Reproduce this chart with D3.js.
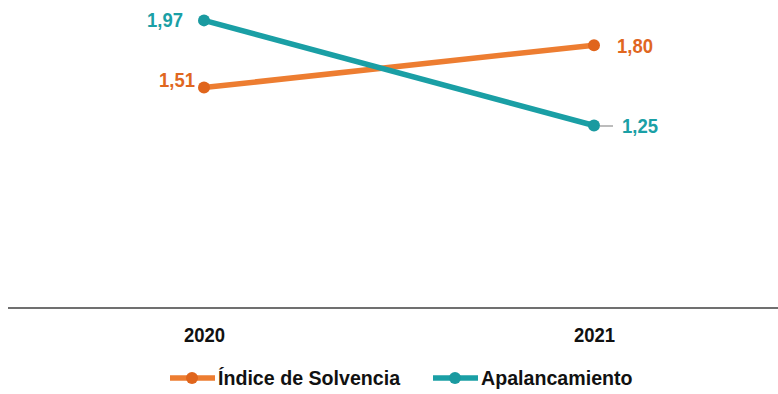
<!DOCTYPE html>
<html><head><meta charset="utf-8">
<script src="https://cdn.jsdelivr.net/npm/d3@7"></script>
<style>
body{margin:0;background:#fff;}
svg text{font-family:"Liberation Sans Narrow","Arial Narrow","Liberation Sans",Arial,sans-serif;font-weight:bold;}
</style></head>
<body><svg id="c" width="778" height="394"></svg>
<script>
const categories = ["2020", "2021"];
const solvencia = [1.51, 1.80];
const apalancamiento = [1.97, 1.25];
const seriesNames = ["Índice de Solvencia", "Apalancamiento"];

const svg = d3.select("#c");
const x = d3.scalePoint().domain(categories).range([204, 594]);
const y = d3.scaleLinear().domain([0, 2]).range([308, 16]);
const SX = 0.88; // horizontal condensation to mimic narrow font
const SXL = 0.935;

const series = [
  {name: seriesNames[0], values: solvencia, line: "#ED7D31", marker: "#E0651C", label: "#E0671F"},
  {name: seriesNames[1], values: apalancamiento, line: "#1A9FA5", marker: "#1A9AA0", label: "#1AA0A6"}
];

// axis
const axis = svg.append("g").attr("transform", "translate(0,308)")
  .call(d3.axisBottom(x).tickSize(0));
axis.select(".domain").remove();
axis.append("line").attr("x1", 8).attr("x2", 778).attr("stroke", "#404040").attr("stroke-width", 1.5);
axis.selectAll(".tick text").attr("font-size", 21).attr("fill", "#111")
  .attr("y", 26.5).attr("dy", "0.35em").attr("transform", `scale(${SX},1)`)
  .style("font-family", '"Liberation Sans Narrow","Arial Narrow","Liberation Sans",sans-serif').style("font-weight", "bold");

const line = d3.line().x((d, i) => x(categories[i])).y(d => y(d));
series.forEach(s => {
  svg.append("path").datum(s.values).attr("d", line).attr("fill", "none")
    .attr("stroke", s.line).attr("stroke-width", 5.5);
  svg.selectAll(null).data(s.values).enter().append("circle")
    .attr("cx", (d, i) => x(categories[i])).attr("cy", d => y(d)).attr("r", 6).attr("fill", s.marker);
});

const fmt = v => d3.format(".2f")(v).replace(".", ",");
// leader line for 1,25
svg.append("line").attr("x1", x(categories[1]) + 6).attr("x2", x(categories[1]) + 19)
  .attr("y1", y(apalancamiento[1]) + 0.5).attr("y2", y(apalancamiento[1]) + 0.5)
  .attr("stroke", "#A6A6A6").attr("stroke-width", 1.5);

const labels = [
  {v: solvencia[0], cat: 0, dx: -9, dy: -8, anchor: "end", c: series[0].label},
  {v: solvencia[1], cat: 1, dx: 23, dy: 0, anchor: "start", c: series[0].label},
  {v: apalancamiento[0], cat: 0, dx: -21, dy: -1, anchor: "end", c: series[1].label},
  {v: apalancamiento[1], cat: 1, dx: 28, dy: 0, anchor: "start", c: series[1].label}
];
svg.selectAll(null).data(labels).enter().append("g")
  .attr("transform", d => `translate(${x(categories[d.cat]) + d.dx},${y(d.v) + d.dy}) scale(${SX},1)`)
  .append("text")
  .attr("dy", "0.35em").attr("text-anchor", d => d.anchor)
  .attr("font-size", 21).attr("fill", d => d.c).text(d => fmt(d.v));

// legend
const leg = svg.append("g").attr("transform", "translate(0,378)");
const legItems = [{s: series[0], x0: 170}, {s: series[1], x0: 433}];
legItems.forEach(it => {
  leg.append("line").attr("x1", it.x0).attr("x2", it.x0 + 45).attr("stroke", it.s.line).attr("stroke-width", 5.5);
  leg.append("circle").attr("cx", it.x0 + 22).attr("r", 6).attr("fill", it.s.marker);
  leg.append("g").attr("transform", `translate(${it.x0 + 48},0) scale(${SXL},1)`)
    .append("text").attr("dy", "0.35em").attr("font-size", 21).attr("fill", "#111").text(it.s.name);
});
</script></body></html>
